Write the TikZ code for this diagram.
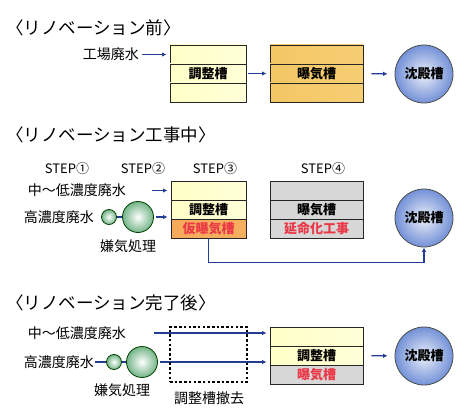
\documentclass[tikz,border=0pt]{standalone}
\usepackage{fontspec}
\newfontfamily\jp{Noto Sans CJK JP}
\usetikzlibrary{arrows.meta}
\definecolor{flowblue}{RGB}{35,60,150}
\definecolor{warnred}{RGB}{235,55,70}
\definecolor{tankgray}{RGB}{215,215,215}
\definecolor{ballblue}{RGB}{115,145,215}
\definecolor{ballgreen}{RGB}{115,180,135}

\tikzset{
  title/.style={anchor=west, inner sep=0pt, font=\jp\fontsize{17.5}{18}\selectfont},
  lbl/.style={inner sep=1pt, font=\jp\fontsize{14}{14}\selectfont},
  steplbl/.style={inner sep=0pt, font=\jp\fontsize{13}{13}\selectfont},
  row/.style={draw=black!85, line width=0.9pt, inner sep=0pt, minimum width=#1,
    minimum height=19pt, font=\jp\bfseries\fontsize{13}{13}\selectfont},
  rowyel/.style={left color=yellow!22!white, middle color=yellow!55!white, right color=yellow!15!white},
  roworg/.style={left color={rgb,255:red,244;green,198;blue,100}, middle color={rgb,255:red,252;green,236;blue,170},
    right color={rgb,255:red,246;green,206;blue,115}},
  rowhot/.style={left color={rgb,255:red,245;green,170;blue,90}, middle color={rgb,255:red,250;green,215;blue,130},
    right color={rgb,255:red,245;green,175;blue,95}, text=warnred},
  rowgray/.style={fill=tankgray},
  settler/.style={circle, draw=black!70, line width=0.8pt, minimum size=58pt, inner sep=0pt,
    inner color=white!85!ballblue, outer color=ballblue, font=\jp\bfseries\fontsize{13}{13}\selectfont},
  smallball/.style={circle, draw=green!25!black, line width=0.8pt, minimum size=15pt, inner sep=0pt,
    inner color=white, outer color=ballgreen},
  bigball/.style={circle, draw=green!25!black, line width=0.8pt, minimum size=31pt, inner sep=0pt,
    inner color=white, outer color=ballgreen},
  flow/.style={draw=flowblue, line width=1.3pt, -{Latex[length=4.5pt,width=4.5pt]}, shorten >=3pt, shorten <=2pt},
  pipe/.style={draw=flowblue, line width=1.2pt},
  removed/.style={draw, line width=2.2pt, dash pattern=on 2.5pt off 2.2pt, minimum width=77pt, minimum height=55pt, inner sep=0pt}
}

\begin{document}
\begin{tikzpicture}[x=1pt, y=-1pt]
  \useasboundingbox (0,0) rectangle (461,412);

  % before renovation
  \node[title] (t1) at (6,28) {〈リノベーション前〉};
  \node[lbl, anchor=east] (w1) at (140,54.5) {工場廃水};
  \node[row=76pt, rowyel] (a1) at (208,54.5) {};
  \node[row=76pt, rowyel] (a2) at (208,73.5) {調整槽};
  \node[row=76pt, rowyel] (a3) at (208,92.5) {};
  \node[row=93pt, roworg] (b1) at (316.5,54.5) {};
  \node[row=93pt, roworg] (b2) at (316.5,73.5) {曝気槽};
  \node[row=93pt, roworg] (b3) at (316.5,92.5) {};
  \node[settler] (c1) at (424,74) {沈殿槽};
  \draw[flow] (w1) -- (a1);
  \draw[flow] (a2) -- (b2);
  \draw[flow, shorten <=8pt, shorten >=7pt] (b2) -- (c1);

  % during renovation
  \node[title] (t2) at (6,135) {〈リノベーション工事中〉};
  \foreach \x/\d [count=\i] in {67/①, 143/②, 215/③, 323/④}
    \node[steplbl] (step\i) at (\x,169) {STEP\d};
  \node[lbl, anchor=east] (w2) at (127,190.5) {中〜低濃度廃水};
  \node[lbl, anchor=east] (h2) at (95,217) {高濃度廃水};
  \node[smallball] (p2) at (109,217) {};
  \node[bigball] (q2) at (138,217) {};
  \node[lbl] (an2) at (128,246) {嫌気処理};
  \node[row=75pt, rowyel] (d1) at (208.5,190.5) {};
  \node[row=75pt, rowyel] (d2) at (208.5,209.5) {調整槽};
  \node[row=75pt, rowhot] (d3) at (208.5,228.5) {仮曝気槽};
  \node[row=93pt, rowgray] (e1) at (316.5,190.5) {};
  \node[row=93pt, rowgray] (e2) at (316.5,209.5) {曝気槽};
  \node[row=93pt, rowgray, text=warnred] (e3) at (316.5,228.5) {延命化工事};
  \node[settler] (c2) at (424,218) {沈殿槽};
  \coordinate (m2) at (150,190.5);
  \draw[flow] (m2) -- (d1);
  \draw[pipe] (p2) -- (q2);
  \draw[flow] (q2) -- (q2 -| d2.west);
  \draw[flow, shorten <=0pt, shorten >=0pt] (d3.south) -- ++(0,24) -| (c2.south);

  % after renovation
  \node[title] (t3) at (6,303) {〈リノベーション完了後〉};
  \node[lbl, anchor=east] (w3) at (127,333) {中〜低濃度廃水};
  \node[lbl, anchor=east] (h3) at (95,362) {高濃度廃水};
  \node[smallball] (p3) at (114,362) {};
  \node[bigball] (q3) at (142,362) {};
  \node[lbl] (an3) at (122,390) {嫌気処理};
  \node[row=93pt, rowyel] (f1) at (316.5,336.5) {};
  \node[row=93pt, rowyel] (f2) at (316.5,355.5) {調整槽};
  \node[row=93pt, rowgray, text=warnred] (f3) at (316.5,374.5) {曝気槽};
  \node[settler] (c3) at (424,356) {沈殿槽};
  \coordinate (m3) at (152,333);
  \draw[flow] (m3) -- (m3 -| f1.west);
  \draw[pipe] (h3) -- (p3) -- (q3);
  \draw[flow] (q3) -- (q3 -| f2.west);
  \draw[flow, shorten <=8pt, shorten >=7pt] (f2) -- (c3);
  \node[removed] (r3) at (208.5,354.5) {};
  \node[lbl] (rl3) at (209,398) {調整槽撤去};
\end{tikzpicture}
\end{document}
